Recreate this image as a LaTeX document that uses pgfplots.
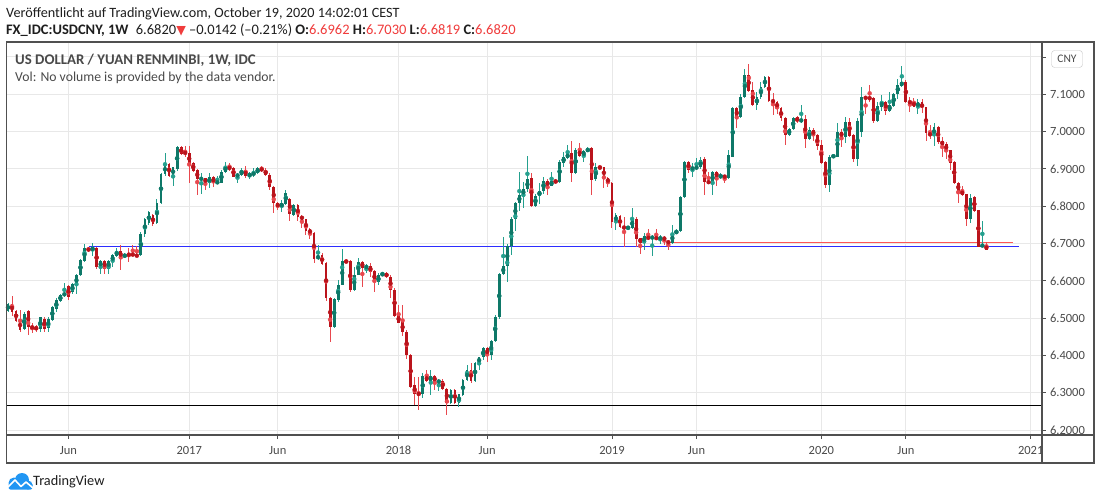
\documentclass[border=0pt]{standalone}
\usepackage{fontspec}
\setmainfont{Carlito}
\newfontfamily\dejavu{DejaVu Sans}
\usepackage{pgfplots}
\pgfplotsset{compat=1.18}
\usepackage{pgfplotstable}
\definecolor{upg}{RGB}{14,120,104}
\definecolor{upw}{RGB}{36,160,142}
\definecolor{dnr}{RGB}{186,20,28}
\definecolor{dnw}{RGB}{232,72,78}
\definecolor{gridc}{RGB}{232,232,232}
\definecolor{axc}{RGB}{80,80,80}
\definecolor{txt}{RGB}{74,74,74}
\definecolor{hdr}{RGB}{30,30,30}
\definecolor{valred}{RGB}{240,60,60}
\definecolor{tvblue}{RGB}{33,150,243}
\definecolor{hblue}{RGB}{45,45,255}
\definecolor{hred}{RGB}{255,85,85}

\pgfplotstableread{
i o h l c
0 6.520 6.541 6.517 6.538
1 6.538 6.559 6.505 6.517
2 6.520 6.523 6.490 6.493
3 6.495 6.523 6.463 6.468
4 6.470 6.517 6.468 6.511
5 6.519 6.521 6.454 6.477
6 6.479 6.486 6.461 6.472
7 6.476 6.483 6.463 6.470
8 6.471 6.504 6.463 6.502
9 6.498 6.502 6.463 6.472
10 6.475 6.502 6.463 6.497
11 6.496 6.532 6.493 6.529
12 6.526 6.553 6.517 6.548
13 6.546 6.564 6.544 6.562
14 6.562 6.595 6.557 6.566
15 6.586 6.588 6.550 6.557
16 6.571 6.595 6.564 6.591
17 6.588 6.618 6.564 6.615
18 6.615 6.660 6.613 6.656
19 6.654 6.698 6.651 6.687
20 6.687 6.691 6.678 6.681
21 6.681 6.702 6.666 6.691
22 6.689 6.691 6.633 6.636
23 6.636 6.657 6.618 6.654
24 6.654 6.657 6.618 6.633
25 6.633 6.657 6.618 6.654
26 6.651 6.672 6.636 6.669
27 6.666 6.687 6.663 6.681
28 6.681 6.696 6.630 6.660
29 6.663 6.675 6.660 6.672
30 6.672 6.687 6.651 6.669
31 6.672 6.696 6.666 6.669
32 6.669 6.693 6.666 6.666
33 6.669 6.732 6.666 6.725
34 6.725 6.768 6.718 6.766
35 6.754 6.788 6.750 6.785
36 6.776 6.779 6.747 6.752
37 6.754 6.818 6.752 6.809
38 6.808 6.888 6.806 6.886
39 6.885 6.944 6.881 6.913
40 6.913 6.917 6.879 6.881
41 6.881 6.906 6.854 6.904
42 6.899 6.961 6.895 6.958
43 6.958 6.961 6.937 6.940
44 6.944 6.961 6.931 6.942
45 6.942 6.961 6.863 6.913
46 6.915 6.919 6.893 6.895
47 6.897 6.899 6.830 6.872
48 6.872 6.890 6.833 6.875
49 6.875 6.877 6.843 6.863
50 6.863 6.888 6.848 6.877
51 6.877 6.881 6.852 6.863
52 6.863 6.881 6.861 6.865
53 6.863 6.897 6.861 6.893
54 6.893 6.919 6.888 6.906
55 6.906 6.917 6.895 6.899
56 6.902 6.906 6.877 6.879
57 6.881 6.890 6.863 6.884
58 6.884 6.902 6.881 6.897
59 6.897 6.908 6.877 6.881
60 6.883 6.893 6.872 6.885
61 6.884 6.902 6.877 6.890
62 6.888 6.904 6.886 6.902
63 6.902 6.908 6.893 6.895
64 6.897 6.902 6.881 6.884
65 6.884 6.888 6.843 6.851
66 6.852 6.854 6.783 6.808
67 6.809 6.812 6.790 6.797
68 6.797 6.817 6.785 6.809
69 6.806 6.843 6.803 6.836
70 6.820 6.822 6.760 6.779
71 6.776 6.805 6.775 6.803
72 6.803 6.805 6.760 6.772
73 6.775 6.776 6.741 6.763
74 6.766 6.767 6.724 6.733
75 6.738 6.741 6.712 6.727
76 6.727 6.730 6.647 6.660
77 6.658 6.696 6.656 6.669
78 6.669 6.674 6.642 6.644
79 6.647 6.651 6.546 6.555
80 6.555 6.557 6.435 6.477
81 6.477 6.555 6.475 6.551
82 6.548 6.602 6.544 6.590
83 6.590 6.685 6.588 6.653
84 6.653 6.655 6.649 6.651
85 6.653 6.656 6.569 6.575
86 6.575 6.638 6.572 6.617
87 6.617 6.662 6.615 6.651
88 6.651 6.653 6.584 6.635
89 6.635 6.644 6.620 6.640
90 6.640 6.649 6.611 6.624
91 6.626 6.629 6.571 6.596
92 6.596 6.620 6.589 6.615
93 6.615 6.623 6.614 6.620
94 6.621 6.623 6.608 6.611
95 6.611 6.615 6.553 6.575
96 6.575 6.580 6.504 6.506
97 6.508 6.535 6.486 6.488
98 6.490 6.535 6.453 6.462
99 6.463 6.468 6.390 6.401
100 6.401 6.403 6.313 6.316
101 6.320 6.343 6.267 6.298
102 6.300 6.343 6.255 6.294
103 6.296 6.352 6.287 6.345
104 6.345 6.362 6.330 6.332
105 6.332 6.361 6.294 6.345
106 6.345 6.347 6.307 6.329
107 6.329 6.336 6.305 6.332
108 6.332 6.338 6.309 6.311
109 6.311 6.314 6.240 6.273
110 6.273 6.311 6.271 6.307
111 6.307 6.311 6.271 6.273
112 6.273 6.298 6.262 6.296
113 6.294 6.336 6.291 6.334
114 6.334 6.374 6.332 6.361
115 6.361 6.380 6.327 6.332
116 6.332 6.383 6.329 6.380
117 6.380 6.396 6.362 6.395
118 6.395 6.423 6.389 6.419
119 6.419 6.423 6.383 6.401
120 6.401 6.441 6.389 6.439
121 6.439 6.508 6.437 6.502
122 6.502 6.620 6.499 6.618
123 6.618 6.718 6.615 6.640
124 6.640 6.700 6.598 6.693
125 6.693 6.770 6.669 6.765
126 6.765 6.812 6.734 6.809
127 6.809 6.893 6.788 6.830
128 6.830 6.866 6.794 6.845
129 6.845 6.935 6.839 6.872
130 6.875 6.888 6.799 6.800
131 6.800 6.834 6.797 6.827
132 6.827 6.861 6.806 6.842
133 6.842 6.879 6.833 6.868
134 6.868 6.872 6.830 6.854
135 6.854 6.893 6.854 6.868
136 6.867 6.868 6.864 6.866
137 6.866 6.924 6.863 6.919
138 6.917 6.944 6.904 6.931
139 6.928 6.964 6.926 6.942
140 6.944 6.976 6.866 6.888
141 6.888 6.955 6.886 6.952
142 6.952 6.970 6.933 6.935
143 6.933 6.951 6.919 6.949
144 6.946 6.958 6.944 6.955
145 6.955 6.958 6.830 6.870
146 6.872 6.917 6.868 6.904
147 6.906 6.910 6.899 6.901
148 6.904 6.906 6.848 6.875
149 6.875 6.877 6.852 6.863
150 6.863 6.866 6.741 6.758
151 6.758 6.783 6.736 6.776
152 6.774 6.776 6.741 6.745
153 6.745 6.772 6.690 6.741
154 6.741 6.747 6.738 6.743
155 6.741 6.794 6.738 6.767
156 6.767 6.770 6.690 6.711
157 6.714 6.716 6.672 6.702
158 6.702 6.727 6.684 6.720
159 6.720 6.738 6.709 6.711
160 6.714 6.723 6.666 6.718
161 6.718 6.738 6.709 6.711
162 6.711 6.723 6.700 6.718
163 6.718 6.720 6.696 6.709
164 6.705 6.709 6.684 6.702
165 6.702 6.749 6.700 6.727
166 6.727 6.738 6.725 6.734
167 6.734 6.827 6.732 6.824
168 6.824 6.921 6.822 6.919
169 6.919 6.921 6.890 6.897
170 6.899 6.915 6.879 6.904
171 6.901 6.928 6.897 6.906
172 6.904 6.933 6.901 6.924
173 6.926 6.933 6.830 6.866
174 6.868 6.892 6.859 6.861
175 6.861 6.895 6.830 6.892
176 6.892 6.895 6.854 6.877
177 6.877 6.888 6.872 6.884
178 6.884 6.884 6.863 6.875
179 6.875 6.951 6.872 6.937
180 6.933 7.067 6.931 7.062
181 7.062 7.067 7.009 7.038
182 7.038 7.101 7.036 7.094
183 7.092 7.167 7.089 7.152
184 7.152 7.181 7.107 7.110
185 7.112 7.134 7.069 7.071
186 7.071 7.107 7.058 7.092
187 7.092 7.134 7.087 7.120
188 7.119 7.149 7.116 7.147
189 7.147 7.149 7.080 7.083
190 7.085 7.103 7.044 7.078
191 7.080 7.083 7.047 7.062
192 7.062 7.065 7.029 7.036
193 7.036 7.038 6.964 6.991
194 6.991 7.009 6.988 7.008
195 7.006 7.038 7.004 7.036
196 7.038 7.042 7.022 7.027
197 7.027 7.071 7.024 7.033
198 7.033 7.044 6.955 6.979
199 6.979 7.013 6.977 7.004
200 7.004 7.009 6.976 6.991
201 6.991 6.994 6.951 6.961
202 6.964 6.977 6.913 6.915
203 6.919 6.920 6.848 6.857
204 6.857 6.937 6.839 6.933
205 6.933 6.937 6.931 6.935
206 6.933 7.024 6.931 7.000
207 7.000 7.006 6.958 6.985
208 6.985 7.038 6.970 7.027
209 7.027 7.036 6.985 6.988
210 6.991 6.994 6.919 6.926
211 6.926 7.036 6.908 7.027
212 7.000 7.120 6.985 7.092
213 7.092 7.093 7.047 7.089
214 7.092 7.125 7.080 7.087
215 7.089 7.092 7.024 7.027
216 7.029 7.080 7.027 7.069
217 7.067 7.098 7.056 7.080
218 7.080 7.083 7.044 7.056
219 7.056 7.107 7.053 7.071
220 7.069 7.104 7.067 7.101
221 7.101 7.140 7.087 7.125
222 7.122 7.176 7.120 7.134
223 7.134 7.137 7.076 7.078
224 7.080 7.092 7.053 7.078
225 7.080 7.089 7.065 7.067
226 7.067 7.087 7.047 7.078
227 7.078 7.087 7.051 7.062
228 7.065 7.067 6.976 6.995
229 6.997 7.018 6.979 6.988
230 6.988 7.024 6.961 7.013
231 7.013 7.015 6.967 6.973
232 6.975 6.985 6.933 6.964
233 6.967 6.973 6.926 6.949
234 6.951 6.952 6.897 6.917
235 6.919 6.922 6.859 6.863
236 6.863 6.866 6.809 6.839
237 6.842 6.854 6.827 6.830
238 6.833 6.834 6.747 6.767
239 6.767 6.834 6.756 6.821
240 6.824 6.827 6.785 6.788
241 6.790 6.791 6.690 6.692
242 6.693 6.761 6.691 6.696
243 6.6962 6.7030 6.6819 6.6820
}\ohlc

\begin{document}
\begin{tikzpicture}[x=1pt,y=1pt]
\useasboundingbox (0,0) rectangle (1100,498);
\fill[white] (0,0) rectangle (1100,498);
\begin{axis}[
  at={(6.4pt,63pt)}, anchor=south west,
  scale only axis, width=1035.6pt, height=393pt,
  xmin=-0.4, xmax=256.8, ymin=6.187, ymax=7.240,
  axis line style={axc, line width=1.1pt},
  xtick={15,45,67,97,119,150,171,202,223,254},
  xticklabels={Jun,2017,Jun,2018,Jun,2019,Jun,2020,Jun,2021},
  ytick={6.2,6.3,6.4,6.5,6.6,6.7,6.8,6.9,7.0,7.1,7.2},
  yticklabels={6.2000,6.3000,6.4000,6.5000,6.6000,6.7000,6.8000,6.9000,7.0000,7.1000,{}},
  xtick pos=left, ytick pos=right, yticklabel pos=right,
  tick align=outside, major tick length=4pt,
  tick style={axc, line width=0.8pt},
  grid=major, major grid style={gridc, line width=0.9pt},
  ticklabel style={font=\fontsize{12.5}{14}\selectfont, text=txt},
  xticklabel style={yshift=-3.5pt},
  yticklabel style={xshift=0.5pt},
]
% horizontal lines
\addplot[black, line width=1pt] coordinates {(-0.4,6.266) (256.8,6.266)};
\addplot[hblue, line width=1.4pt] coordinates {(20,6.692) (251,6.692)};
\addplot[hred, line width=1.6pt] coordinates {(164.5,6.703) (249.7,6.703)};
% wicks
\addplot[dnw, only marks, mark=none,
  restrict expr to domain={\thisrow{c}-\thisrow{o}}{-1:-0.00001},
  error bars/.cd, y dir=both, y explicit, error mark=none,
  error bar style={line width=1pt, dnw}]
  table[x=i, y expr={(\thisrow{h}+\thisrow{l})/2}, y error expr={(\thisrow{h}-\thisrow{l})/2}] {\ohlc};
\addplot[upw, only marks, mark=none,
  restrict expr to domain={\thisrow{c}-\thisrow{o}}{0:1},
  error bars/.cd, y dir=both, y explicit, error mark=none,
  error bar style={line width=1pt, upw}]
  table[x=i, y expr={(\thisrow{h}+\thisrow{l})/2}, y error expr={(\thisrow{h}-\thisrow{l})/2}] {\ohlc};
% bodies
\addplot[dnr, only marks, mark=none,
  restrict expr to domain={\thisrow{c}-\thisrow{o}}{-1:-0.00001},
  error bars/.cd, y dir=both, y explicit, error mark=none,
  error bar style={line width=2.8pt, dnr}]
  table[x=i, y expr={(\thisrow{o}+\thisrow{c})/2}, y error expr={max(abs(\thisrow{c}-\thisrow{o})/2,0.0013)}] {\ohlc};
\addplot[upg, only marks, mark=none,
  restrict expr to domain={\thisrow{c}-\thisrow{o}}{0:1},
  error bars/.cd, y dir=both, y explicit, error mark=none,
  error bar style={line width=2.8pt, upg}]
  table[x=i, y expr={(\thisrow{o}+\thisrow{c})/2}, y error expr={max(abs(\thisrow{c}-\thisrow{o})/2,0.0013)}] {\ohlc};
\end{axis}
% outer panel borders
\draw[axc, line width=1.1pt] (6.4,35) rectangle (1094,456);
\draw[axc, line width=1.1pt] (1042,35) -- (1042,456);
\draw[axc, line width=1.1pt] (6.4,63) -- (1094,63);
% CNY box
\node[draw=gray!45, fill=white, rounded corners=3pt, inner sep=2.5pt, minimum width=31pt, minimum height=17pt, text=txt,
  font=\fontsize{11.5}{12}\selectfont] at (1067,439) {CNY};
% header
\node[anchor=base west, inner sep=0pt, text=hdr, font=\fontsize{14.2}{16}\selectfont] at (6,480.7)
  {Veröffentlicht auf TradingView.com, October 19, 2020 14:02:01 CEST};
\node[anchor=base west, inner sep=0pt, text=hdr, font=\fontsize{14.5}{16}\selectfont] at (6,463.3)
  {\textbf{FX\_IDC:USDCNY, 1W}\enspace 6.6820{\color{valred}\dejavu\fontsize{12.5}{14}\selectfont ▼} –0.0142 (–0.21\%) \textbf{O:}{\color{valred}6.6962} \textbf{H:}{\color{valred}6.7030} \textbf{L:}{\color{valred}6.6819} \textbf{C:}{\color{valred}6.6820}};
% in-plot legend
\node[anchor=base west, inner sep=0pt, text=txt, font=\fontsize{14.8}{17}\selectfont\bfseries] at (15,433)
  {US DOLLAR / YUAN RENMINBI, 1W, IDC};
\node[anchor=base west, inner sep=0pt, text=txt, font=\fontsize{13.7}{15}\selectfont] at (15,416.3)
  {Vol: No volume is provided by the data vendor.};
% TradingView logo
\fill[tvblue] (14,15) circle (5.5);
\fill[tvblue] (22,18) circle (7);
\fill[tvblue] (28,13) circle (4.5);
\fill[tvblue, rounded corners=2pt] (8.5,8.5) rectangle (32.5,15);
\draw[white, line width=1.6pt, line join=round] (8,11) -- (15,18) -- (21,11.5) -- (26,16) -- (33,10);
\node[anchor=base west, inner sep=0pt, text=hdr, font=\fontsize{14.3}{16}\selectfont] at (33,12.5) {TradingView};
\end{tikzpicture}
\end{document}
